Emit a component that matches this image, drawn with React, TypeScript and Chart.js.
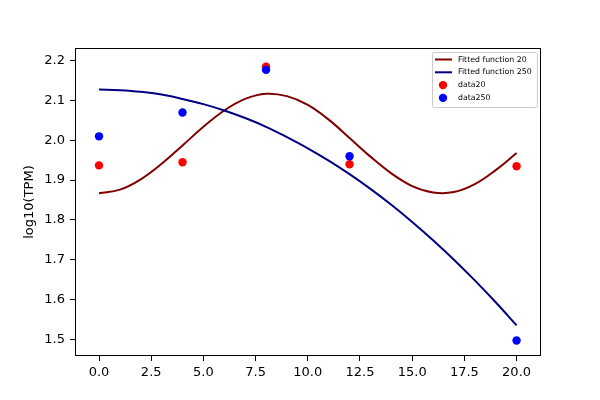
import { useEffect, useRef } from "react"
import { Chart, registerables, type Plugin } from "chart.js"

Chart.register(...registerables)

// sample times
const sampleX = [0, 4, 8, 12, 20]
const data20 = [1.937, 1.945, 2.185, 1.94, 1.935]
const data250 = [2.01, 2.07, 2.177, 1.96, 1.497]

const fitX = [0, 1, 2, 3, 4, 5, 6, 7, 8, 9, 10, 11, 12, 13, 14, 15, 16, 17, 18, 19, 20]
const fit20 = [
  1.867, 1.876, 1.902, 1.941, 1.987, 2.034, 2.075, 2.104, 2.117, 2.111, 2.089,
  2.052, 2.006, 1.959, 1.917, 1.885, 1.869, 1.87, 1.89, 1.925, 1.968,
]
const fit250 = [
  2.128, 2.126, 2.122, 2.115, 2.104, 2.091, 2.075, 2.056, 2.034, 2.008, 1.98,
  1.949, 1.915, 1.878, 1.838, 1.795, 1.749, 1.7, 1.648, 1.593, 1.535,
]

const xTicks = [0, 2.5, 5, 7.5, 10, 12.5, 15, 17.5, 20]
const yTicks = [1.5, 1.6, 1.7, 1.8, 1.9, 2.0, 2.1, 2.2]

const toPoints = (xs: number[], ys: number[]) => xs.map((x, i) => ({ x, y: ys[i] }))

// black box round the plot area, like matplotlib spines
const framePlugin: Plugin = {
  id: "frame",
  afterDraw(chart) {
    const { ctx, chartArea } = chart
    ctx.save()
    ctx.strokeStyle = "#000"
    ctx.lineWidth = 1
    ctx.strokeRect(chartArea.left + 0.5, chartArea.top + 0.5, chartArea.width - 1, chartArea.height - 1)
    ctx.restore()
  },
}

// legend drawn inside the top right corner
const innerLegend: Plugin = {
  id: "innerLegend",
  afterDraw(chart) {
    const { ctx, chartArea } = chart
    const sets = chart.data.datasets as any[]
    const boxW = 105
    const boxH = 55
    const x0 = chartArea.right - boxW - 4
    const y0 = chartArea.top + 4
    ctx.save()
    ctx.fillStyle = "rgba(255,255,255,0.8)"
    ctx.strokeStyle = "#cccccc"
    ctx.lineWidth = 1
    ctx.beginPath()
    ctx.roundRect(x0 + 0.5, y0 + 0.5, boxW, boxH, 2)
    ctx.fill()
    ctx.stroke()

    ctx.font = "7.8px 'DejaVu Sans'"
    ctx.textBaseline = "middle"
    sets.forEach((ds, i) => {
      const y = y0 + 7.5 + i * 12.8
      if (ds.showLine) {
        ctx.strokeStyle = ds.borderColor
        ctx.lineWidth = 2
        ctx.beginPath()
        ctx.moveTo(x0 + 3, y)
        ctx.lineTo(x0 + 20, y)
        ctx.stroke()
      } else {
        ctx.fillStyle = ds.backgroundColor
        ctx.beginPath()
        ctx.arc(x0 + 11, y, 4.2, 0, Math.PI * 2)
        ctx.fill()
      }
      ctx.fillStyle = "#000"
      ctx.fillText(ds.label, x0 + 26, y)
    })
    ctx.restore()
  },
}

export default function App() {
  const canvasRef = useRef<HTMLCanvasElement>(null)
  const chartRef = useRef<Chart | null>(null)

  useEffect(() => {
    if (!canvasRef.current) return
    if (chartRef.current) chartRef.current.destroy()

    Chart.defaults.font.family = "'DejaVu Sans', sans-serif"
    Chart.defaults.color = "#000"

    chartRef.current = new Chart(canvasRef.current, {
      type: "scatter",
      data: {
        datasets: [
          {
            label: "Fitted function 20",
            data: toPoints(fitX, fit20),
            showLine: true,
            borderColor: "#800000",
            backgroundColor: "#800000",
            borderWidth: 2,
            pointRadius: 0,
            tension: 0.4,
            order: 3,
          },
          {
            label: "Fitted function 250",
            data: toPoints(fitX, fit250),
            showLine: true,
            borderColor: "#000080",
            backgroundColor: "#000080",
            borderWidth: 2,
            pointRadius: 0,
            tension: 0.4,
            order: 2,
          },
          {
            label: "data20",
            data: toPoints(sampleX, data20),
            showLine: false,
            backgroundColor: "#ff0000",
            borderWidth: 0,
            pointRadius: 4.2,
            order: 1,
          },
          {
            label: "data250",
            data: toPoints(sampleX, data250),
            showLine: false,
            backgroundColor: "#0000ff",
            borderWidth: 0,
            pointRadius: 4.2,
            order: 0,
          },
        ],
      },
      options: {
        animation: false,
        responsive: true,
        maintainAspectRatio: false,
        layout: { padding: { left: 18, top: 48, right: 59, bottom: 0 } },
        plugins: {
          legend: { display: false },
          tooltip: { enabled: false },
        },
        scales: {
          x: {
            type: "linear",
            min: -1.15,
            max: 21.17,
            afterBuildTicks: (scale) => {
              scale.ticks = xTicks.map((value) => ({ value }))
            },
            afterFit: (scale) => {
              scale.height = 44
            },
            ticks: {
              font: { size: 13 },
              padding: 4,
              maxRotation: 0,
              callback: (v) => Number(v).toFixed(1),
            },
            grid: {
              drawOnChartArea: false,
              drawTicks: true,
              tickLength: 5,
              tickColor: "#000",
            },
            border: { display: false },
          },
          y: {
            type: "linear",
            min: 1.458,
            max: 2.232,
            afterBuildTicks: (scale) => {
              scale.ticks = yTicks.map((value) => ({ value }))
            },
            afterFit: (scale) => {
              scale.width = 57
            },
            title: {
              display: true,
              text: "log10(TPM)",
              font: { size: 13 },
              padding: { top: 4, bottom: 4 },
            },
            ticks: {
              font: { size: 13 },
              padding: 5,
              callback: (v) => Number(v).toFixed(1),
            },
            grid: {
              drawOnChartArea: false,
              drawTicks: true,
              tickLength: 5,
              tickColor: "#000",
            },
            border: { display: false },
          },
        },
      },
      plugins: [framePlugin, innerLegend],
    })

    return () => {
      if (chartRef.current) {
        chartRef.current.destroy()
        chartRef.current = null
      }
    }
  }, [])

  return (
    <div style={{ position: "absolute", left: 0, top: 0, width: 600, height: 400, background: "#fff" }}>
      <canvas ref={canvasRef} />
    </div>
  )
}
